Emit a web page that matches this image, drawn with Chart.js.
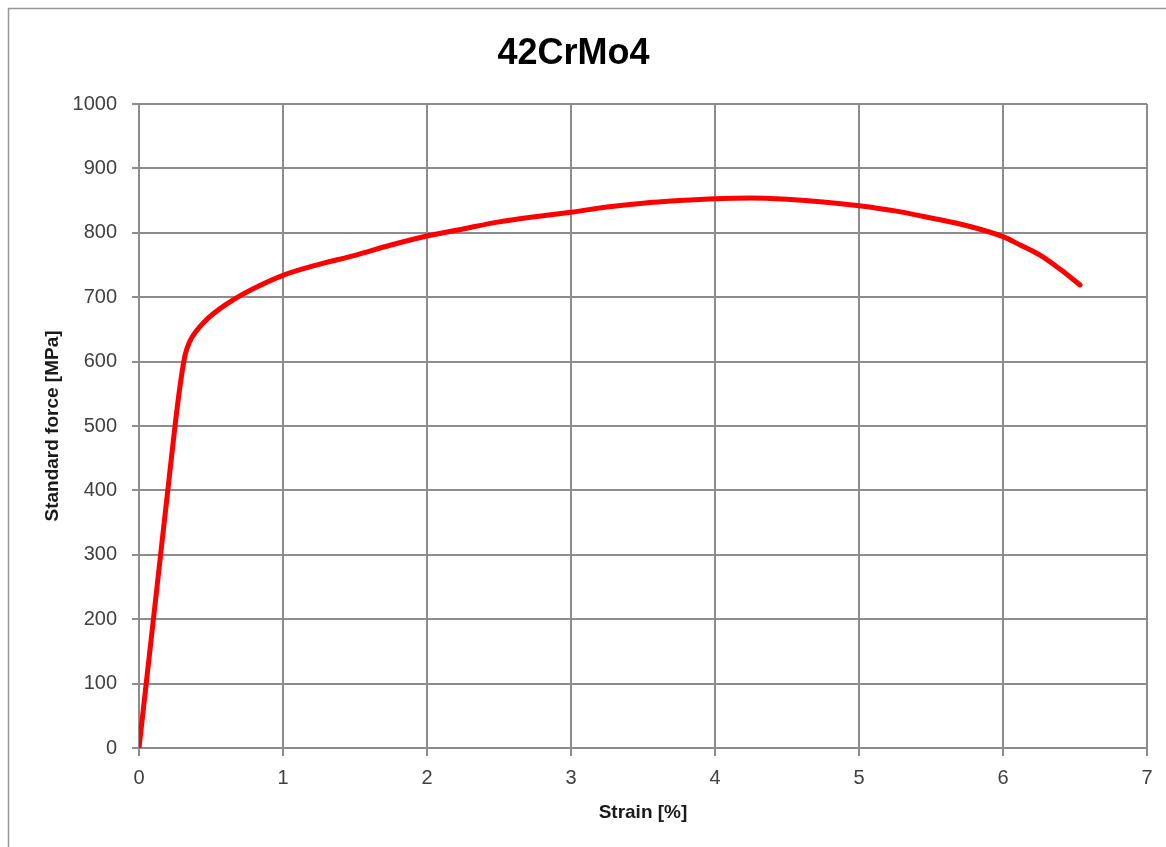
<!DOCTYPE html>
<html>
<head>
<meta charset="utf-8">
<title>42CrMo4</title>
<script src="https://cdn.jsdelivr.net/npm/chart.js@4.4.1/dist/chart.umd.min.js"></script>
<style>
  html, body { margin: 0; padding: 0; background: #ffffff; }
  #wrap { position: relative; width: 1166px; height: 847px; }
</style>
</head>
<body>
<div id="wrap"><canvas id="c" width="1166" height="847"></canvas></div>
<script>
// Tensile test curve of 42CrMo4: strain in %, standard force in MPa
const strain = [0, 0.05, 0.10, 0.15, 0.20, 0.25, 0.29, 0.32, 0.35, 0.40, 0.46, 0.52, 0.60, 0.70, 0.80,
  1.00, 1.25, 1.50, 1.75, 2.00, 2.25, 2.50, 2.75, 3.00, 3.25, 3.50, 3.75, 4.00, 4.25, 4.50, 4.75,
  5.00, 5.25, 5.50, 5.75, 6.00, 6.12, 6.26, 6.40, 6.535];
const stress = [0, 100, 200, 300, 400, 500, 570, 610, 630, 648, 663, 675, 688, 702, 714,
  734, 751, 765, 781, 795, 806, 817, 825, 832, 840, 846, 850, 853, 854, 852, 848,
  842, 834, 823, 811, 794, 781, 765, 743, 719];

const xTicks = [0, 1, 2, 3, 4, 5, 6, 7];
const yTicks = [0, 100, 200, 300, 400, 500, 600, 700, 800, 900, 1000];

const chartTitle = '42CrMo4';
const xTitle = 'Strain [%]';
const yTitle = 'Standard force [MPa]';

const gridColor = 'rgb(140,140,140)';
const fontFamily = '"Liberation Sans", Arial, sans-serif';

// Outer frame around the chart
const framePlugin = {
  id: 'frame',
  beforeDraw(chart) {
    const ctx = chart.ctx;
    ctx.save();
    ctx.fillStyle = '#ffffff';
    ctx.fillRect(0, 0, chart.width, chart.height);
    ctx.strokeStyle = 'rgb(150,150,150)';
    ctx.lineWidth = 1.5;
    ctx.beginPath();
    ctx.moveTo(8.5, chart.height + 5);
    ctx.lineTo(8.5, 8.5);
    ctx.lineTo(chart.width + 5, 8.5);
    ctx.stroke();
    ctx.restore();
  }
};

const points = strain.map((x, i) => ({ x: x, y: stress[i] }));

new Chart(document.getElementById('c'), {
  type: 'scatter',
  data: {
    datasets: [{
      label: chartTitle,
      data: points,
      showLine: true,
      borderColor: '#ff0000',
      backgroundColor: '#ff0000',
      borderWidth: 5,
      pointRadius: 0,
      cubicInterpolationMode: 'monotone',
      borderCapStyle: 'round',
      borderJoinStyle: 'round'
    }]
  },
  options: {
    responsive: false,
    animation: false,
    layout: { padding: { left: 0, right: 19, top: 0, bottom: 0 } },
    plugins: {
      legend: { display: false },
      tooltip: { enabled: false },
      title: {
        display: true,
        text: chartTitle,
        color: '#000000',
        font: { family: fontFamily, size: 36, weight: 'bold', lineHeight: 1.2 },
        padding: { top: 32, bottom: 28.8 }
      }
    },
    scales: {
      x: {
        type: 'linear',
        min: 0,
        max: 7,
        afterFit(scale) { scale.height = 99; },
        afterBuildTicks(scale) { scale.ticks = xTicks.map(v => ({ value: v })); },
        ticks: {
          color: '#404040',
          padding: 10,
          font: { family: fontFamily, size: 20 },
          callback: v => String(v)
        },
        grid: { color: gridColor, lineWidth: 2, tickLength: 8, tickColor: gridColor },
        border: { color: gridColor, width: 2 },
        title: {
          display: true,
          text: xTitle,
          color: '#1a1a1a',
          font: { family: fontFamily, size: 19, weight: 'bold', lineHeight: 1.2 },
          padding: { top: 0, bottom: 22.6 }
        }
      },
      y: {
        type: 'linear',
        min: 0,
        max: 1000,
        afterFit(scale) { scale.width = 139; },
        afterBuildTicks(scale) { scale.ticks = yTicks.map(v => ({ value: v })); },
        ticks: {
          color: '#404040',
          padding: 15,
          font: { family: fontFamily, size: 20 },
          callback: v => String(v)
        },
        grid: { color: gridColor, lineWidth: 2, tickLength: 7, tickColor: gridColor },
        border: { color: gridColor, width: 2 },
        title: {
          display: true,
          text: yTitle,
          color: '#1a1a1a',
          font: { family: fontFamily, size: 19, weight: 'bold', lineHeight: 1.2 },
          padding: { top: 41.6, bottom: 0 }
        }
      }
    }
  },
  plugins: [framePlugin]
});
</script>
</body>
</html>
